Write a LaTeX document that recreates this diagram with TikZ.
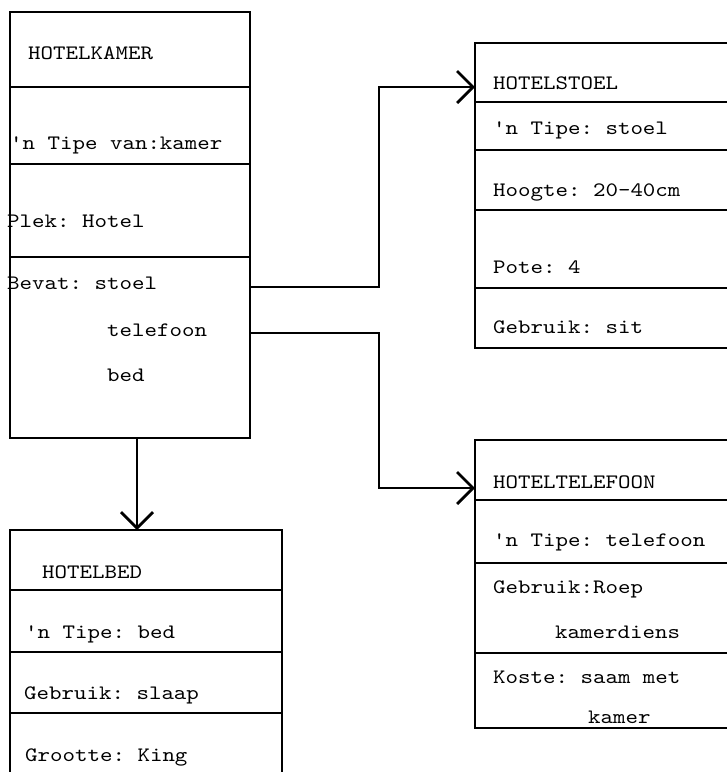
\documentclass[tikz,border=0pt]{standalone}
\usepackage{fontspec}
\newfontfamily\typefont[FakeStretch=1.16]{lmmono10-regular.otf}
\frenchspacing
\usetikzlibrary{arrows.meta}
\tikzset{
  frame/.style={draw, line width=1.9pt, inner sep=0pt, outer sep=0pt, anchor=north west},
  rule/.style={line width=1.7pt},
  lbl/.style={inner sep=0pt, anchor=base west, font=\typefont\fontsize{20.5}{24}\selectfont\frenchspacing},
  link/.style={line width=1.8pt, -{Straight Barb[length=16pt, width=32pt, line width=2.8pt]}},
}
\begin{document}
\begin{tikzpicture}[x=1pt, y=-1pt]
\useasboundingbox (0,0) rectangle (727,772);
\clip (0,0) rectangle (727,772);

% --- HOTELKAMER ---
\node[frame, minimum width=240pt, minimum height=426pt] (kamer) at (10,12) {};
\draw[rule] (10,87) -- (250,87);
\draw[rule] (10,164) -- (250,164);
\draw[rule] (10,257) -- (250,257);
\node[lbl] (k1) at (28,59) {HOTELKAMER};
\node[lbl] (k2) at (10,149) {'n Tipe van:kamer};
\node[lbl] (k3) at (7,227) {Plek: Hotel};
\node[lbl] (k4) at (7,289) {Bevat: stoel};
\node[lbl] (k5) at (107,336) {telefoon};
\node[lbl] (k6) at (107,381) {bed};

% --- HOTELSTOEL ---
\node[frame, minimum width=280pt, minimum height=305pt] (stoel) at (475,43) {};
\draw[rule] (475,102) -- (740,102);
\draw[rule] (475,150) -- (740,150);
\draw[rule] (475,210) -- (740,210);
\draw[rule] (475,288) -- (740,288);
\node[lbl] (s1) at (493,89) {HOTELSTOEL};
\node[lbl] (s2) at (493,134) {'n Tipe: stoel};
\node[lbl] (s3) at (493,196) {Hoogte: 20-40cm};
\node[lbl] (s4) at (493,273) {Pote: 4};
\node[lbl] (s5) at (493,333) {Gebruik: sit};

% --- HOTELTELEFOON ---
\node[frame, minimum width=280pt, minimum height=288pt] (telefoon) at (475,440) {};
\draw[rule] (475,500) -- (740,500);
\draw[rule] (475,563) -- (740,563);
\draw[rule] (475,653) -- (740,653);
\node[lbl] (t1) at (493,488) {HOTELTELEFOON};
\node[lbl] (t2) at (493,546) {'n Tipe: telefoon};
\node[lbl] (t3) at (493,593) {Gebruik:Roep};
\node[lbl] (t4) at (555,638) {kamerdiens};
\node[lbl] (t5) at (493,683) {Koste: saam met};
\node[lbl] (t6) at (588,723) {kamer};

% --- HOTELBED ---
\node[frame, minimum width=272pt, minimum height=260pt] (bed) at (10,530) {};
\draw[rule] (10,590) -- (282,590);
\draw[rule] (10,652) -- (282,652);
\draw[rule] (10,713) -- (282,713);
\node[lbl] (b1) at (42,578) {HOTELBED};
\node[lbl] (b2) at (25,638) {'n Tipe: bed};
\node[lbl] (b3) at (24,699) {Gebruik: slaap};
\node[lbl] (b4) at (25,761) {Grootte: King};

% --- connectors ---
\coordinate (toStoel) at (475,87);
\coordinate (toTelefoon) at (475,488);
\draw[link] (kamer.east |- 0,287) -- (379,287) -- (379,87) -- (toStoel);
\draw[link] (kamer.east |- 0,333) -- (379,333) -- (379,488) -- (toTelefoon);
\draw[link] (kamer.south -| 137,0) -- (bed.north -| 137,0);
\end{tikzpicture}
\end{document}
